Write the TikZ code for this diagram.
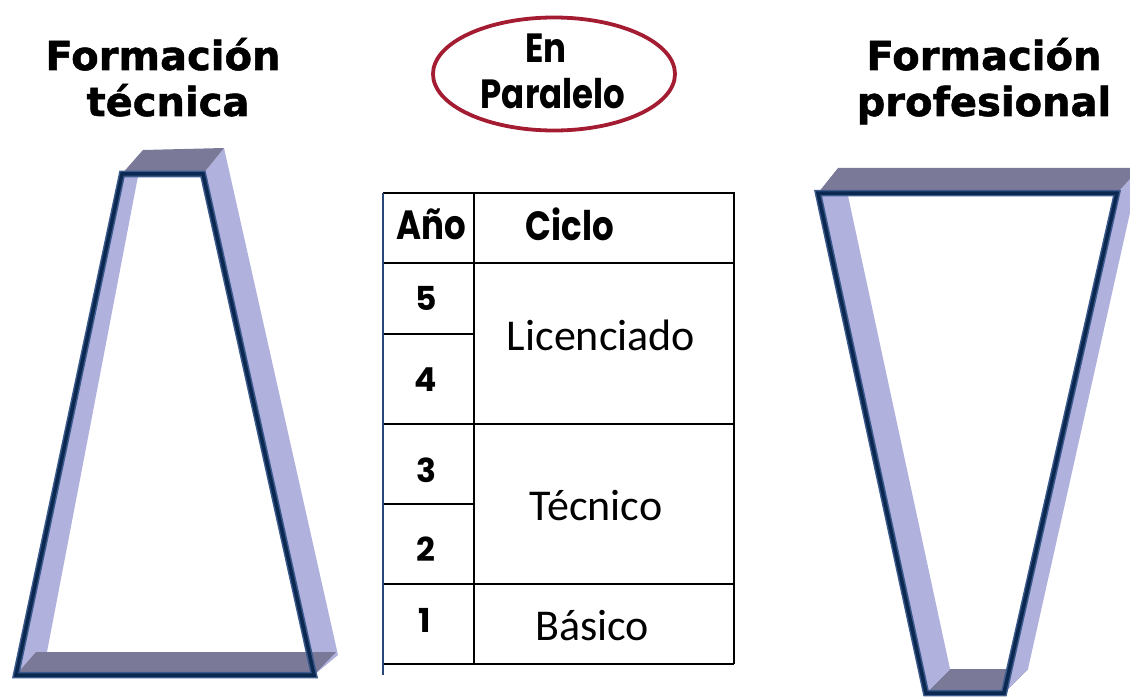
\documentclass[tikz,border=0pt]{standalone}
\usepackage{fontspec}
\usepackage{graphicx}
\setmainfont{DejaVu Sans}
\newfontfamily\titlef{DejaVu Sans Bold}[FakeBold=1.3]
\newfontfamily\comicf{Poppins}
\newfontfamily\calf{Carlito}
\usetikzlibrary{shapes.geometric}
\definecolor{facec}{RGB}{177,177,222}
\definecolor{barc}{RGB}{122,122,152}
\definecolor{edgeout}{RGB}{60,90,140}
\definecolor{edgein}{RGB}{10,40,80}
\definecolor{ovalc}{RGB}{163,28,50}
\definecolor{tblblue}{RGB}{40,70,120}
\newcommand{\vstr}[1]{\scalebox{1}[1.2]{#1}}
\tikzset{
  face/.style={fill=facec, draw=none},
  bar/.style={fill=barc, draw=none},
  edgeA/.style={draw=edgeout, line width=6.5pt, line join=miter},
  edgeB/.style={draw=edgein, line width=3.5pt, line join=miter},
  title/.style={anchor=base, inner sep=0pt, font=\titlef\fontsize{40}{48}\selectfont},
  tline/.style={draw=black, line width=1.6pt},
  hdr/.style={inner sep=0pt, font=\comicf\bfseries\fontsize{34}{40}\selectfont},
  num/.style={inner sep=0pt, font=\comicf\bfseries\fontsize{33}{38}\selectfont},
  cyc/.style={inner sep=0pt, anchor=base, font=\calf\fontsize{44}{50}\selectfont},
}
\begin{document}
\begin{tikzpicture}[x=1pt,y=-1pt]
\useasboundingbox (0,0) rectangle (1130,698);
\clip (0,0) rectangle (1130,698);

% ---------- titles ----------
\node[title] (t1a) at (163,70) {Formación};
\node[title] (t1b) at (168,116) {técnica};
\node[title] (t2a) at (984,70) {Formación};
\node[title] (t2b) at (984,116) {profesional};

% ---------- oval ----------
\node[ellipse, draw=ovalc, line width=3.8pt, minimum width=242pt, minimum height=113pt, inner sep=0pt] (oval) at (554,74) {};
\node[hdr, anchor=base] (en) at (546,63) {\vstr{En}};
\node[hdr, anchor=base] (par) at (553,109) {\vstr{Paralelo}};

% ---------- left frame (narrow top) ----------
\fill[face] (122,174) -- (143,150) -- (47,652) -- (16,675) -- cycle;
\fill[face] (203,174) -- (224,148) -- (338,655) -- (314,675) -- cycle;
\fill[bar] (122,174) -- (203,174) -- (224,148) -- (143,150) -- cycle;
\fill[bar] (16,675) -- (314,675) -- (336,652) -- (36,652) -- cycle;
\draw[edgeA] (122,174) -- (203,174) -- (314,675) -- (16,675) -- cycle;
\draw[edgeB] (122,174) -- (203,174) -- (314,675) -- (16,675) -- cycle;

% ---------- right frame (wide top) ----------
\fill[bar] (926,693) -- (1004,693) -- (1028,669) -- (950,669) -- cycle;
\fill[face] (818,193) -- (842,168) -- (950,669) -- (926,693) -- cycle;
\fill[face] (1117,193) -- (1140,168) -- (1028,669) -- (1004,693) -- cycle;
\fill[bar] (818,193) -- (1117,193) -- (1140,168) -- (838,168) -- cycle;
\draw[edgeA] (818,193) -- (1117,193) -- (1004,693) -- (926,693) -- cycle;
\draw[edgeB] (818,193) -- (1117,193) -- (1004,693) -- (926,693) -- cycle;

% ---------- table ----------
\draw[tline] (383,193) -- (734,193) -- (734,664);
\draw[tline] (474,193) -- (474,664);
\draw[tline] (383,263) -- (734,263);
\draw[tline] (383,334) -- (474,334);
\draw[tline] (383,424) -- (734,424);
\draw[tline] (383,504) -- (474,504);
\draw[tline] (383,584) -- (734,584);
\draw[tline] (383,664) -- (734,664);
\draw[draw=tblblue, line width=1.6pt] (383,193) -- (383,675);

\node[hdr] (ano) at (431,224) {\vstr{Año}};
\node[hdr] (ciclo) at (570,224) {\vstr{Ciclo}};
\node[num] (n5) at (426,298) {5};
\node[num] (n4) at (426,380) {4};
\node[num] (n3) at (426,470) {3};
\node[num] (n2) at (426,549) {2};
\node[num] (n1) at (425,620) {1};
\node[cyc] (lic) at (601,350) {Licenciado};
\node[cyc] (tec) at (596,520) {Técnico};
\node[cyc] (bas) at (592,640) {Básico};
\end{tikzpicture}
\end{document}
